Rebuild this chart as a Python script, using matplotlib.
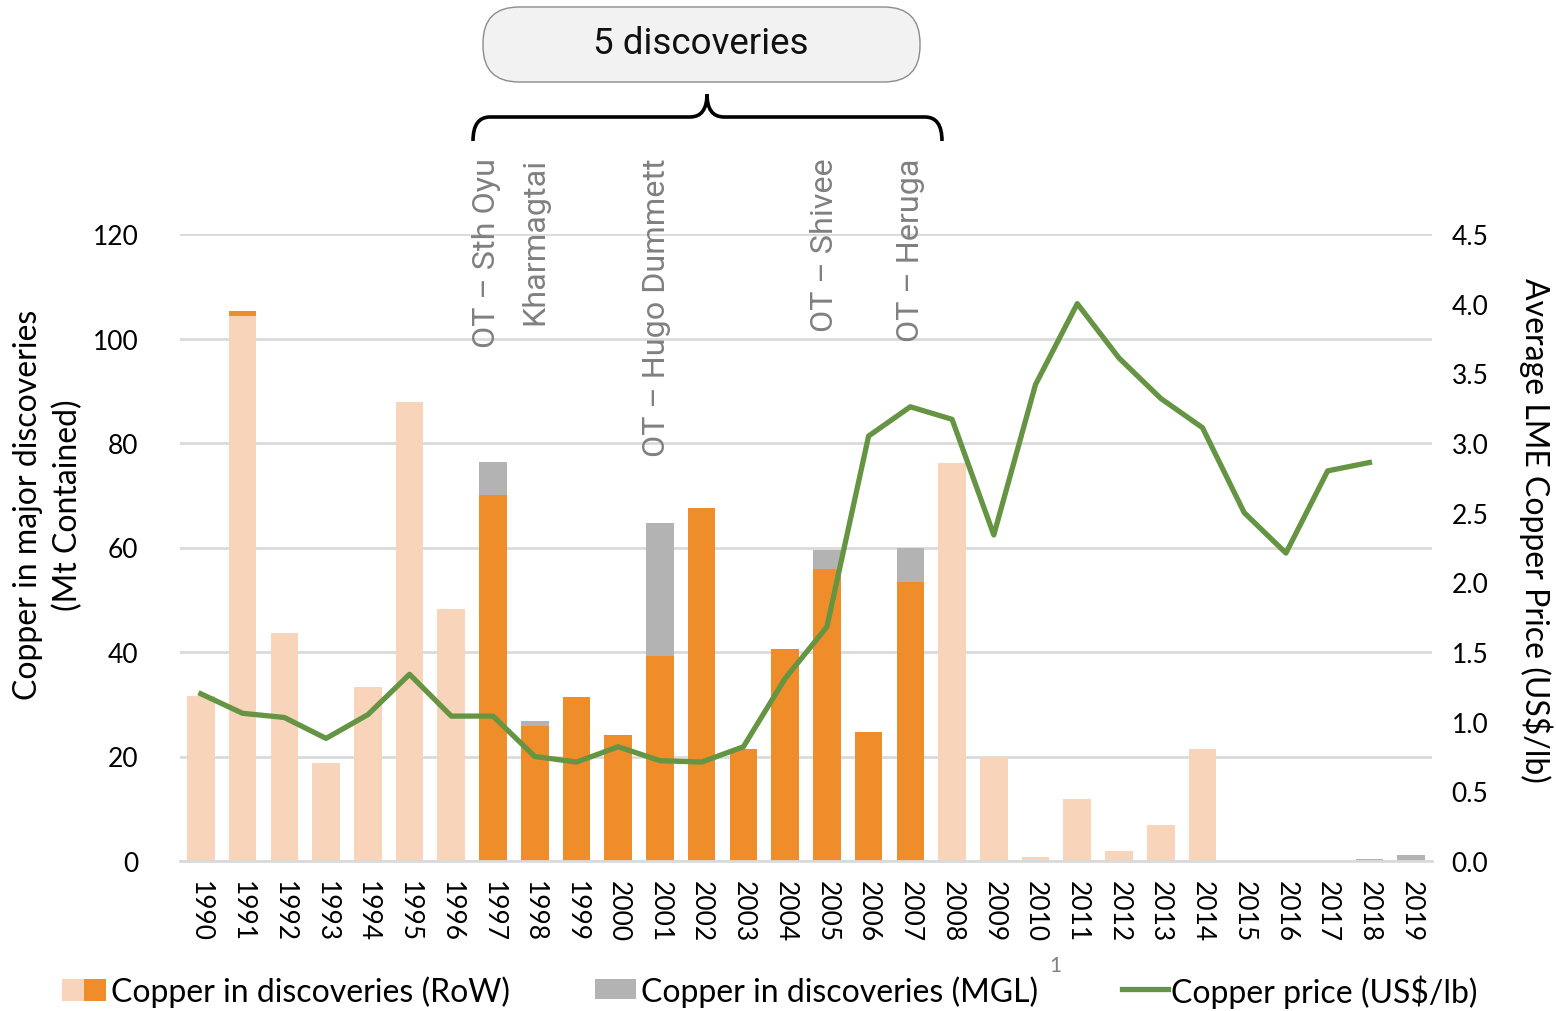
import numpy as np
import matplotlib
matplotlib.use("Agg")
import matplotlib.pyplot as plt
from matplotlib.patches import FancyBboxPatch, Rectangle
from matplotlib.lines import Line2D
from matplotlib.path import Path
from matplotlib.patches import PathPatch

plt.rcParams['font.family'] = ['Lato', 'DejaVu Sans']

# data
years = list(range(1990, 2020))
row_light = [31.6, 104.4, 43.6, 18.7, 33.3, 87.8, 48.2,
             0, 0, 0, 0, 0, 0, 0, 0, 0, 0, 0,
             76.2, 19.9, 0.7, 11.9, 2.0, 6.8, 21.5, 0, 0, 0, 0, 0]
row_dark = [0, 0.8, 0, 0, 0, 0, 0,
            70.0, 25.8, 31.3, 24.2, 39.2, 67.6, 21.4, 40.5, 55.8, 24.6, 53.4,
            0, 0, 0, 0, 0, 0, 0, 0, 0, 0, 0, 0]
mgl = [0, 0, 0, 0, 0, 0, 0,
       6.3, 0.9, 0, 0, 25.4, 0, 0, 0, 3.8, 0, 6.6,
       0, 0, 0, 0, 0, 0, 0, 0, 0, 0, 0.3, 1.1]
price = [1.20, 1.06, 1.03, 0.88, 1.05, 1.34, 1.04,
         1.04, 0.75, 0.71, 0.82, 0.72, 0.71, 0.82, 1.31, 1.68, 3.05, 3.26,
         3.17, 2.34, 3.42, 4.00, 3.61, 3.32, 3.11, 2.50, 2.21, 2.80, 2.86, np.nan]
discoveries = ["OT – Sth Oyu", "Kharmagtai", "OT – Hugo Dummett", "OT – Shivee", "OT – Heruga"]

PEACH = "#f8d4bb"
ORANGE = "#f08d2b"
GREY = "#b3b3b3"
GREEN = "#659443"

W, H = 1556, 1012
fig = plt.figure(figsize=(W / 100, H / 100), dpi=100)
ax = fig.add_axes([180 / W, 1 - 862 / H, (1432 - 180) / W, (862 - 235) / H])

x = np.arange(len(years))
light = np.array(row_light)
dark = np.array(row_dark)
ax.bar(x, light, width=0.66, color=PEACH, zorder=2)
ax.bar(x, dark, width=0.66, bottom=light, color=ORANGE, zorder=2)
ax.bar(x, mgl, width=0.66, bottom=light + dark, color=GREY, zorder=2)

ax.set_xlim(-0.5, len(years) - 0.5)
ax.set_ylim(0, 120)
ax.set_yticks(range(0, 121, 20))
ax.yaxis.grid(True, color="#dadada", linewidth=2)
ax.set_axisbelow(True)
for s in ["top", "right", "left"]:
    ax.spines[s].set_visible(False)
ax.spines["bottom"].set_color("#dadada")
ax.spines["bottom"].set_linewidth(2)
ax.set_xticks(x)
ax.set_xticklabels([str(y) for y in years], rotation=270, va="top", ha="center", fontsize=19)
ax.tick_params(axis="both", length=0, labelsize=19)
ax.tick_params(axis="y", pad=30)
ax.tick_params(axis="x", pad=14)

ax2 = ax.twinx()
ax2.plot(x, price, color=GREEN, linewidth=3.8, solid_joinstyle="round", zorder=3)
ax2.set_ylim(0, 4.5)
ax2.set_yticks(np.arange(0, 4.51, 0.5))
ax2.set_yticklabels([f"{v:.1f}" for v in np.arange(0, 4.51, 0.5)])
ax2.tick_params(axis="y", length=0, labelsize=19, pad=14)
for s in ax2.spines.values():
    s.set_visible(False)

fig.text(48 / W, 1 - 505 / H, "Copper in major discoveries\n(Mt Contained)",
         rotation=90, ha="center", va="center", multialignment="center",
         fontsize=23, linespacing=1.4)
fig.text(1536 / W, 1 - 530 / H, "Average LME Copper Price (US$/lb)",
         rotation=270, ha="center", va="center", fontsize=23)

# overlay in pixel units for annotations and legend
ov = fig.add_axes([0, 0, 1, 1], facecolor="none")
ov.set_xlim(0, W)
ov.set_ylim(H, 0)
ov.axis("off")

ov.add_patch(FancyBboxPatch((483, 8), 437, 75, boxstyle="round,pad=0,rounding_size=36",
                            facecolor="#f2f2f2", edgecolor="#8c8c8c", linewidth=1))
ov.text(701, 44, "5 discoveries", ha="center", va="center", fontsize=26.5,
        family=["Roboto", "DejaVu Sans"], color="#111111")

# curly brace
verts = [(473, 142), (473, 118), (490, 118), (690, 118), (707, 118), (707, 95),
         (707, 118), (724, 118), (925, 118), (942, 118), (942, 142)]
codes = [Path.MOVETO, Path.CURVE3, Path.CURVE3, Path.LINETO, Path.CURVE3, Path.CURVE3,
         Path.CURVE3, Path.CURVE3, Path.LINETO, Path.CURVE3, Path.CURVE3]
ov.add_patch(PathPatch(Path(verts, codes), facecolor="none", edgecolor="black",
                       linewidth=2.6, capstyle="butt"))

label_x = [487, 535, 657, 825, 911]
for lx, name in zip(label_x, discoveries):
    ov.text(lx, 158, name, rotation=90, ha="center", va="top", fontsize=23.3,
            family=["Roboto", "DejaVu Sans"], color="#808080")

# legend
ov.add_patch(Rectangle((62, 980), 22, 22, facecolor=PEACH, edgecolor="none"))
ov.add_patch(Rectangle((84, 980), 22, 22, facecolor=ORANGE, edgecolor="none"))
ov.text(111, 992, "Copper in discoveries (RoW)", ha="left", va="center", fontsize=23)
ov.add_patch(Rectangle((595, 980), 41, 20, facecolor=GREY, edgecolor="none"))
ov.text(641, 992, "Copper in discoveries (MGL)", ha="left", va="center", fontsize=23)
ov.text(1055, 966, "1", ha="center", va="center", fontsize=15, color="#808080")
ov.add_line(Line2D([1122, 1168], [990, 990], color=GREEN, linewidth=3.8))
ov.text(1171, 992, "Copper price (US$/lb)", ha="left", va="center", fontsize=23)

fig.savefig("out.png", dpi=100)
